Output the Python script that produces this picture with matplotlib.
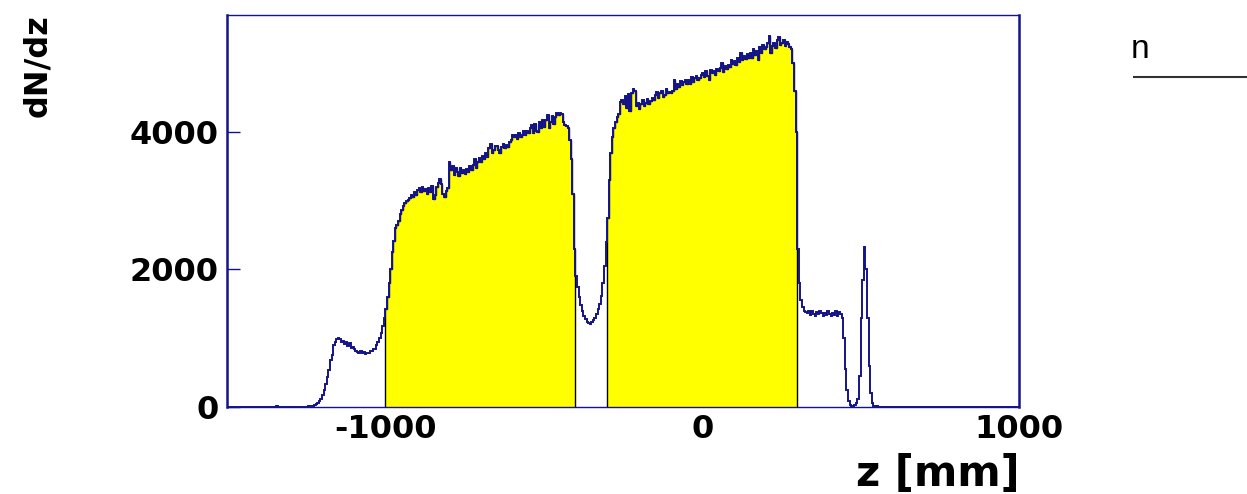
import numpy as np
import matplotlib
matplotlib.use('Agg')
import matplotlib.pyplot as plt

# bins of 5 mm from -1500 to 1000, one row = 50 mm
z_lo = -1500
z_hi = 1000
bin_w = 5

counts = [
    0, 0, 0, 0, 0, 0, 0, 0, 0, 0,                      # -1500
    0, 0, 0, 0, 0, 0, 0, 0, 0, 0,                      # -1450
    0, 0, 0, 0, 0, 1, 0, 2, 0, 3,                      # -1400
    5, 8, 6, 4, 3, 5, 2, 3, 0, 2,                      # -1350
    0, 2, 1, 3, 2, 4, 3, 5, 4, 6,                      # -1300
    6, 8, 10, 14, 18, 26, 38, 52, 80, 120,             # -1250
    170, 250, 330, 430, 540, 680, 760, 900, 950, 990,  # -1200
    1010, 985, 950, 965, 920, 945, 880, 930, 860, 875,  # -1150
    840, 820, 800, 790, 810, 780, 800, 770, 790, 780,  # -1100
    820, 810, 850, 840, 900, 950, 1000, 1080, 1180, 1300,  # -1050
    1420, 1600, 1800, 2000, 2250, 2420, 2600, 2640, 2700, 2800,  # -1000
    2870, 2920, 2960, 3000, 3010, 3040, 3080, 3060, 3120, 3080,  # -950
    3150, 3180, 3120, 3200, 3140, 3170, 3090, 3190, 3130, 3210,  # -900
    3020, 3080, 3200, 3260, 3310, 3240, 3100, 3060, 3140, 3180,  # -850
    3560, 3450, 3500, 3380, 3470, 3420, 3360, 3480, 3400, 3440,  # -800
    3390, 3460, 3420, 3500, 3450, 3520, 3600, 3480, 3560, 3620,  # -750
    3560, 3650, 3600, 3700, 3640, 3760, 3820, 3690, 3740, 3790,  # -700
    3800, 3730, 3700, 3780, 3820, 3760, 3810, 3780, 3850, 3880,  # -650
    3960, 3920, 3950, 3900, 3980, 3930, 3960, 4010, 3950, 4020,  # -600
    3990, 4060, 4100, 3980, 4120, 4020, 4000, 4150, 4050, 4180,  # -550
    4070, 4180, 4240, 4050, 4140, 4230, 4120, 4210, 4270, 4240,  # -500
    4280, 4260, 4150, 4100, 4080, 4060, 3880, 3600, 3100, 2300,  # -450
    1900, 1750, 1600, 1480, 1400, 1330, 1280, 1240, 1220, 1210,  # -400
    1230, 1260, 1300, 1350, 1420, 1500, 1620, 1800, 2050, 2400,  # -350
    2750, 3300, 3700, 3920, 4050, 4150, 4220, 4260, 4430, 4460,  # -300
    4400, 4520, 4350, 4550, 4300, 4560, 4620, 4600, 4380, 4420,  # -250
    4340, 4400, 4460, 4380, 4420, 4480, 4400, 4450, 4500, 4470,  # -200
    4530, 4580, 4500, 4560, 4590, 4510, 4540, 4620, 4560, 4580,  # -150
    4570, 4600, 4760, 4630, 4700, 4660, 4740, 4680, 4720, 4760,  # -100
    4700, 4760, 4690, 4800, 4730, 4780, 4820, 4750, 4790, 4830,  # -50
    4850, 4800, 4880, 4820, 4760, 4900, 4850, 4880, 4830, 4920,  # 0
    4880, 4930, 5000, 4870, 4960, 4910, 4980, 4940, 5050, 4990,  # 50
    5030, 4980, 5080, 5010, 5150, 5040, 5100, 5060, 5130, 5070,  # 100
    5150, 5080, 5200, 5120, 5180, 5040, 5230, 5150, 5260, 5200,  # 150
    5230, 5290, 5400, 5150, 5250, 5290, 5220, 5330, 5380, 5260,  # 200
    5300, 5340, 5250, 5310, 5280, 5230, 5200, 5000, 4600, 4000,  # 250
    2300, 1800, 1550, 1450, 1400, 1380, 1360, 1390, 1340, 1400,  # 300
    1350, 1330, 1380, 1350, 1400, 1360, 1320, 1370, 1340, 1390,  # 350
    1350, 1330, 1370, 1340, 1400, 1320, 1380, 1350, 1300, 1000,  # 400
    550, 250, 80, 30, 15, 12, 25, 60, 120, 450,        # 450
    1300, 1850, 2330, 2000, 1300, 600, 200, 60, 20, 10,  # 500
    8, 5, 6, 3, 4, 5, 2, 4, 3, 5,                      # 550
    3, 2, 4, 5, 2, 3, 4, 2, 5, 3,                      # 600
    2, 4, 3, 2, 5, 3, 2, 4, 3, 2,                      # 650
    4, 2, 3, 5, 2, 3, 2, 4, 2, 3,                      # 700
    2, 3, 4, 2, 3, 2, 4, 3, 2, 3,                      # 750
    3, 2, 2, 4, 3, 2, 3, 2, 4, 2,                      # 800
    2, 3, 2, 3, 2, 4, 2, 3, 2, 2,                      # 850
    3, 2, 2, 3, 2, 2, 3, 2, 2, 3,                      # 900
    2, 2, 3, 2, 2, 2, 3, 2, 2, 1,                      # 950
]

fill_ranges = [(-1000, -400), (-300, 300)]
y_ticks = [0, 2000, 4000]
x_ticks = [-1000, 0, 1000]

edges = np.arange(z_lo, z_hi + bin_w, bin_w)
counts = np.array(counts, dtype=float)

navy = '#14148a'

fig = plt.figure(figsize=(12.47, 4.94), dpi=100)
ax = fig.add_axes([227 / 1247, 1 - 407 / 494, (1019 - 227) / 1247, (407 - 15) / 494])

for a, b in fill_ranges:
    i0 = int(round((a - z_lo) / bin_w))
    i1 = int(round((b - z_lo) / bin_w))
    ax.stairs(counts[i0:i1], edges[i0:i1 + 1], fill=True, color='#ffff00',
              zorder=1)
    ax.stairs(counts[i0:i1], edges[i0:i1 + 1], baseline=0, color='black',
              linewidth=1.0, zorder=1.5)

ax.stairs(counts, edges, color=navy, linewidth=1.4, zorder=2)

ax.set_xlim(z_lo, z_hi)
ax.set_ylim(0, 5700)
ax.set_xticks(x_ticks)
ax.set_yticks(y_ticks)
ax.set_xticklabels([str(v) for v in x_ticks], fontsize=23, fontweight='bold')
ax.set_yticklabels([str(v) for v in y_ticks], fontsize=23, fontweight='bold')
ax.tick_params(axis='x', length=0, pad=5)
ax.tick_params(axis='y', direction='in', length=9.5, width=1, color=navy, pad=6)

for side in ['left', 'right', 'top', 'bottom']:
    ax.spines[side].set_color(navy)
ax.spines['left'].set_linewidth(1.8)
ax.spines['right'].set_linewidth(1.8)
ax.spines['top'].set_linewidth(1.0)
ax.spines['bottom'].set_linewidth(1.0)

fig.text(1020 / 1247, 1 - 474 / 494, 'z [mm]', fontsize=30, fontweight='bold',
         ha='right', va='center')
fig.text(38 / 1247, 1 - 14 / 494, 'dN/dz', fontsize=23, fontweight='heavy',
         rotation=90, ha='center', va='top')

# clipped legend box piece at the top right
fig.text(1131 / 1247, 1 - 50 / 494, 'n', fontsize=24, ha='left', va='center',
         family=['Liberation Sans', 'DejaVu Sans'])
fig.add_artist(plt.Line2D([1134 / 1247, 1.0], [1 - 77 / 494, 1 - 77 / 494],
                          color='#333333', linewidth=1.5))

fig.savefig('out.png', dpi=100)
